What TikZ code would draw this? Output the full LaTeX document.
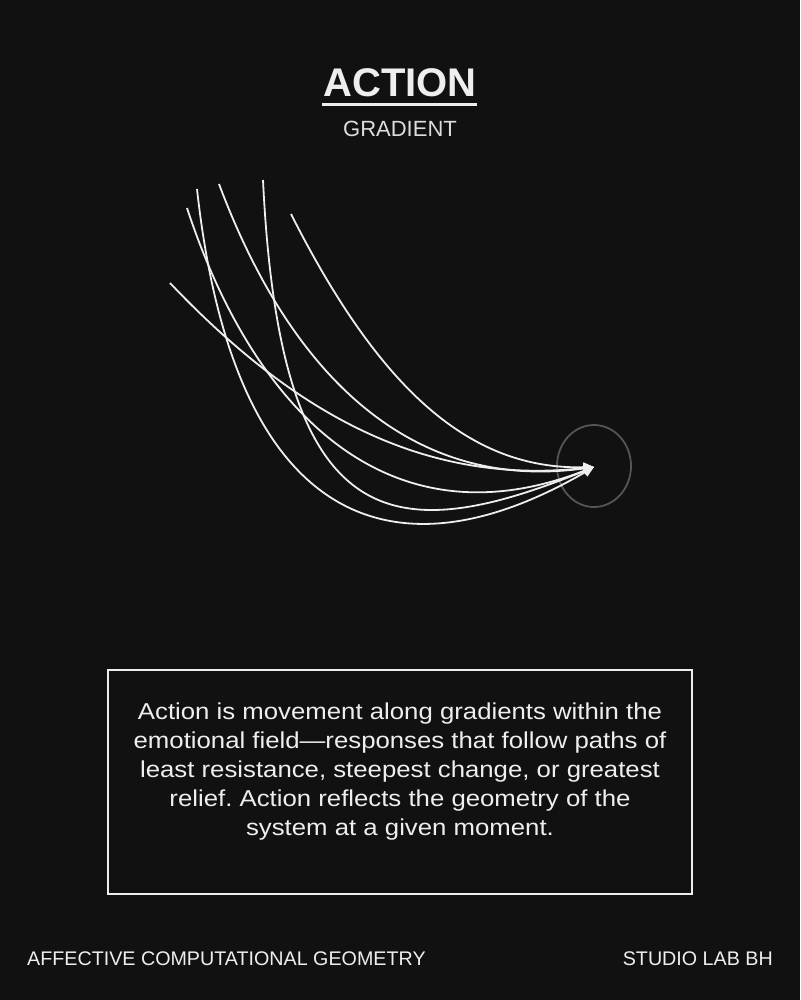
\documentclass[tikz,border=0pt]{standalone}
\usepackage{fontspec}
\setmainfont{Liberation Sans}
\newfontfamily\widefont[FakeStretch=1.12]{Liberation Sans}
\usetikzlibrary{arrows.meta,shapes.geometric}
\definecolor{bg}{HTML}{111111}
\definecolor{ink}{HTML}{EEEEEE}
\definecolor{soft}{HTML}{DDDDDD}
\definecolor{ring}{HTML}{555555}
\tikzset{
  flow/.style={draw=ink, line width=1.8pt, -{Triangle[length=10.5pt,width=9.5pt]}},
  txt/.style={text=ink, inner sep=0pt},
}
\begin{document}
\frenchspacing
\begin{tikzpicture}[x=1pt,y=-1pt]
\useasboundingbox (0,0) rectangle (800,1000);
\fill[bg] (0,0) rectangle (800,1000);
% title
\node[txt, anchor=base, font=\fontsize{40}{44}\selectfont\bfseries] (title) at (400,97) {ACTION};
\draw[ink, line width=3pt] (322,105) -- (477,105);
\node[txt, text=soft, anchor=base, font=\fontsize{22}{26}\selectfont] (sub) at (400,137) {GRADIENT};
% target ring
\node[draw=ring, line width=1.8pt, ellipse, minimum width=74pt, minimum height=82pt, inner sep=0pt] (ring) at (594,466) {};
\coordinate (E) at (594,467);
\coordinate (s1) at (170,283);
\coordinate (s2) at (187,208);
\coordinate (s3) at (197,189);
\coordinate (s4) at (219,184);
\coordinate (s5) at (263,180);
\coordinate (s6) at (291,214);
\draw[flow] (s1) .. controls (300,420) and (430,485) .. (E);
\draw[flow] (s2) .. controls (250,400) and (380,550) .. (E);
\draw[flow] (s3) .. controls (235,535) and (400,580) .. (E);
\draw[flow] (s4) .. controls (300,400) and (430,490) .. (E);
\draw[flow] (s5) .. controls (280,535) and (390,550) .. (E);
\draw[flow] (s6) .. controls (380,390) and (470,470) .. (E);
% text box
\node[draw=ink, line width=1.8pt, minimum width=584pt, minimum height=224pt, inner sep=0pt] (box) at (400,782) {};
\node[txt, align=center, font=\widefont\fontsize{23}{29}\selectfont] (body) at (400,772)
  {Action is movement along gradients within the\\
   emotional field—responses that follow paths of\\
   least resistance, steepest change, or greatest\\
   relief. Action reflects the geometry of the\\
   system at a given moment.};
% footer
\node[txt, anchor=base west, font=\fontsize{19.7}{22}\selectfont] (foot1) at (27,965) {AFFECTIVE COMPUTATIONAL GEOMETRY};
\node[txt, anchor=base east, font=\fontsize{19.7}{22}\selectfont] (foot2) at (773,965) {STUDIO LAB BH};
\end{tikzpicture}
\end{document}
